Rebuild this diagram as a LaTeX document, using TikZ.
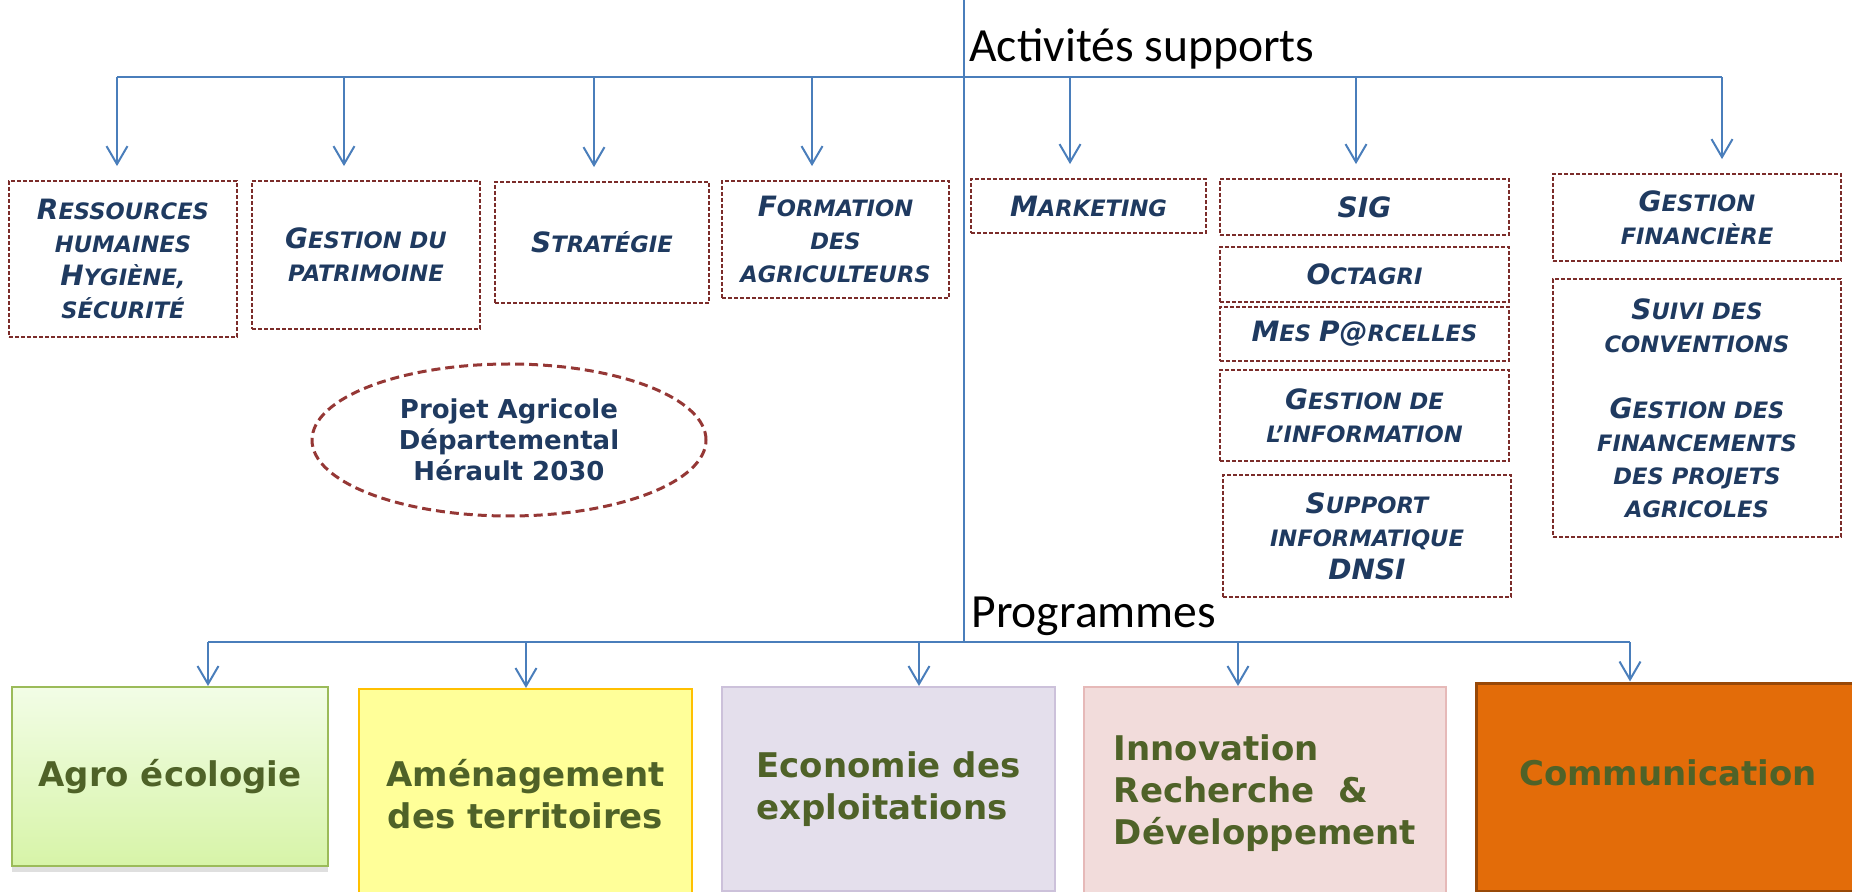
\documentclass[tikz,border=0pt]{standalone}
\usepackage{fontspec}
\setmainfont{DejaVu Sans}
\newfontfamily\calib{Carlito}
\usetikzlibrary{arrows.meta,shapes.geometric,shadows}

\definecolor{azul}{HTML}{4A7EBB}
\definecolor{marino}{HTML}{1F3A60}
\definecolor{granate}{HTML}{7B2C2A}
\definecolor{granateB}{HTML}{953735}
\definecolor{oliva}{HTML}{4F6228}
\definecolor{verde}{HTML}{9BBB59}
\definecolor{verdeA}{HTML}{F2FDE6}
\definecolor{verdeB}{HTML}{D7F4A8}
\definecolor{amarillo}{HTML}{FFFF99}
\definecolor{oro}{HTML}{FFC000}
\definecolor{lila}{HTML}{E4DFEC}
\definecolor{lilaB}{HTML}{CCC1DA}
\definecolor{rosa}{HTML}{F2DCDB}
\definecolor{rosaB}{HTML}{E6B9B8}
\definecolor{naranja}{HTML}{E36C09}
\definecolor{naranjaB}{HTML}{984807}

% letra grande dentro de las versalitas
\newcommand\bi[1]{{\fontsize{14}{16.5}\selectfont #1}}

\tikzset{
  bus/.style={azul, line width=1pt},
  flecha/.style={bus, -{Straight Barb[length=9pt,width=10.5pt]}, shorten >=7pt},
  caja/.style={draw=granate, line width=0.9pt, dash pattern=on 2pt off 1pt,
    inner sep=0pt, align=center, text=marino,
    font=\fontsize{11.3}{16.5}\selectfont\bfseries\itshape},
  prog/.style={inner sep=0pt, line width=1pt, text=oliva,
    font=\fontsize{17}{21}\selectfont\bfseries},
  titulo/.style={anchor=base west, inner sep=0pt, font=\calib\fontsize{23.8}{28}\selectfont}
}

\begin{document}
\begin{tikzpicture}[x=0.5pt, y=-0.5pt]
\useasboundingbox (0,0) rectangle (1852,892);
\clip (0,0) rectangle (1852,892);

% Los titulos
\node[titulo] (act) at (969,62) {Activités supports};
\node[titulo] (progt) at (971,627) {Programmes};

% Las cajas de actividades supports
\node[caja, minimum width=114pt, minimum height=78pt] (rh) at (123,259) {\bi{R}ESSOURCES\\HUMAINES\\\bi{H}YGIÈNE,\\SÉCURITÉ};
\node[caja, minimum width=114pt, minimum height=74pt] (patri) at (366,255) {\bi{G}ESTION DU\\PATRIMOINE};
\node[caja, minimum width=107pt, minimum height=60.5pt] (strat) at (602,242.5) {\bi{S}TRATÉGIE};
\node[caja, minimum width=113.5pt, minimum height=58.5pt] (forma) at (835.5,239.5) {\bi{F}ORMATION\\DES\\AGRICULTEURS};
\node[caja, minimum width=117.5pt, minimum height=27pt] (mkt) at (1088.5,206) {\bi{M}ARKETING};
\node[caja, minimum width=144.5pt, minimum height=28pt] (sig) at (1364.5,207) {\bi{SIG}};
\node[caja, minimum width=144.5pt, minimum height=27.5pt] (octa) at (1364.5,274.5) {\bi{O}CTAGRI};
\node[caja, minimum width=144.5pt, minimum height=27pt] (parc) at (1364.5,334) {\bi{M}ES \bi{P@}RCELLES};
\node[caja, minimum width=144.5pt, minimum height=45.5pt] (ginfo) at (1364.5,415.5) {\bi{G}ESTION DE\\L’INFORMATION};
\node[caja, minimum width=144pt, minimum height=61pt] (dnsi) at (1367,536) {\bi{S}UPPORT\\INFORMATIQUE\\\bi{DNSI}};
\node[caja, minimum width=144pt, minimum height=43.5pt] (gfin) at (1697,217.5) {\bi{G}ESTION\\FINANCIÈRE};
\node[caja, minimum width=144pt, minimum height=129pt] (suivi) at (1697,408) {\bi{S}UIVI DES\\CONVENTIONS\\[16.5pt]\bi{G}ESTION DES\\FINANCEMENTS\\DES PROJETS\\AGRICOLES};

% La elipse del proyecto
\node[ellipse, draw=granateB, line width=1.5pt, dash pattern=on 4.5pt off 2.5pt,
  minimum width=197pt, minimum height=76pt, inner sep=0pt, align=center, text=marino,
  font=\fontsize{13}{15.5}\selectfont\bfseries] (pad) at (509,440) {Projet Agricole\\Départemental\\Hérault 2030};

% Los programas
\node[prog, draw=verde, top color=verdeA, bottom color=verdeB,
  drop shadow={shadow xshift=0pt, shadow yshift=-3pt, opacity=0.25},
  minimum width=158pt, minimum height=89.5pt] (agro) at (170,776.5) {Agro écologie};
\node[prog, draw=oro, fill=amarillo, align=center, minimum width=166.5pt, minimum height=105.5pt] (amen) at (525.5,794.5) {Aménagement\\des territoires};
\node[prog, draw=lilaB, fill=lila, align=left, minimum width=166.5pt, minimum height=102pt] (eco) at (888.5,789) {Economie des\\exploitations};
\node[prog, draw=rosaB, fill=rosa, align=left, minimum width=181pt, minimum height=106.5pt] (inno) at (1265,793.5) {Innovation\\Recherche~ \&\\Développement};
\node[prog, draw=naranjaB, fill=naranja, line width=1.5pt, text depth=14pt, minimum width=192pt, minimum height=104pt] (comm) at (1668,787) {Communication};

% Lineas y flechas de arriba
\coordinate (s1) at (117,77);
\coordinate (s2) at (344,77);
\coordinate (s3) at (594,77);
\coordinate (s4) at (812,77);
\coordinate (s5) at (1070,77);
\coordinate (s6) at (1356,77);
\coordinate (s7) at (1722,77);
\draw[bus] (s1) -- (s7);
\foreach \s/\n in {s1/rh, s2/patri, s3/strat, s4/forma, s5/mkt, s6/sig, s7/gfin}
  \draw[flecha] (\s) -- (\s |- \n.north);

% Linea central y flechas de abajo
\coordinate (arriba) at (964,0);
\coordinate (b0) at (964,642);
\coordinate (p1) at (208,642);
\coordinate (p2) at (526,642);
\coordinate (p3) at (919,642);
\coordinate (p4) at (1238,642);
\coordinate (p5) at (1630,642);
\draw[bus] (arriba) -- (b0);
\draw[bus] (p1) -- (p5);
\foreach \s/\n in {p1/agro, p2/amen, p3/eco, p4/inno, p5/comm}
  \draw[flecha, shorten >=0pt] (\s) -- (\s |- \n.north);
\end{tikzpicture}
\end{document}
